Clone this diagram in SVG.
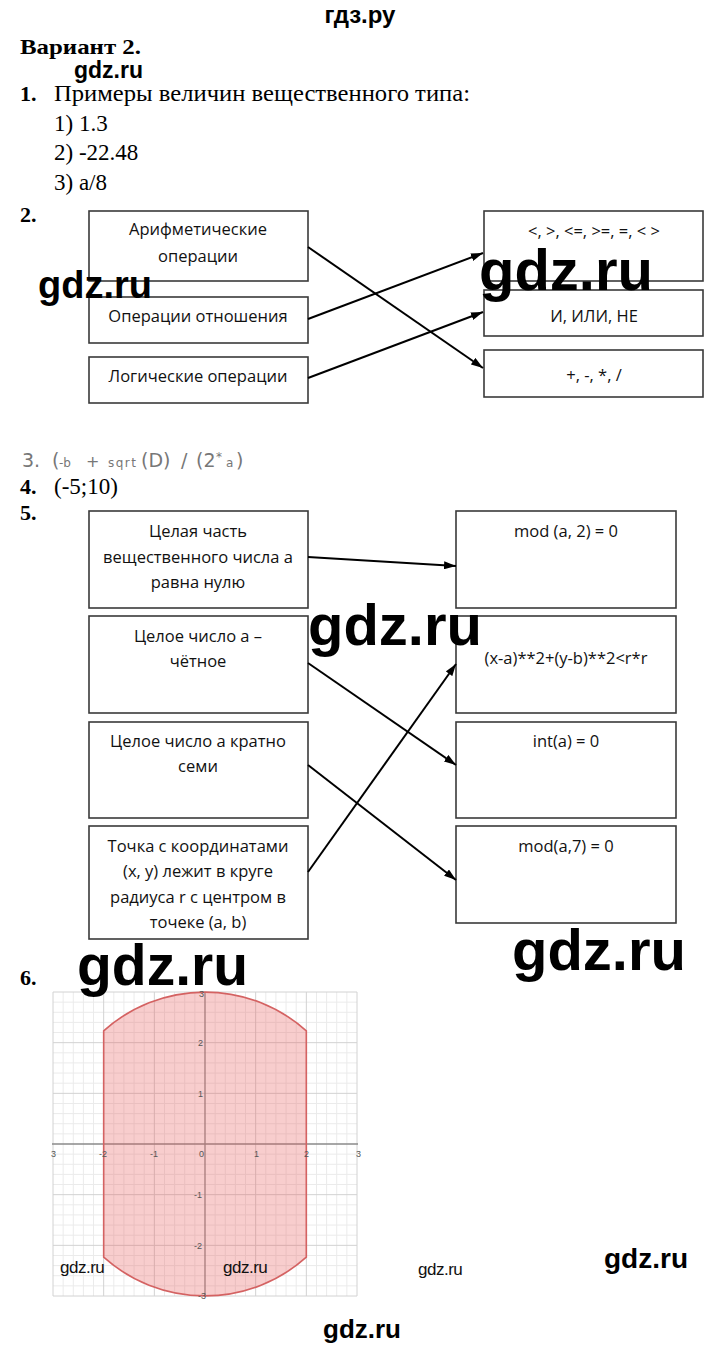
<svg xmlns="http://www.w3.org/2000/svg" width="720" height="1350" viewBox="0 0 720 1350">
<defs>
<style>
.box{fill:#fff;stroke:#3a3a3a;stroke-width:1.6}
.bt{font-family:"Open Sans","Noto Sans",sans-serif;font-size:16.5px;fill:#111;text-anchor:middle}
.ser{font-family:"Liberation Serif","Times New Roman",serif;font-size:23px;fill:#000}
.serb{font-family:"Liberation Serif","Times New Roman",serif;font-size:22px;font-weight:bold;fill:#000}
.wm{font-family:"Liberation Sans",Arial,sans-serif;font-weight:bold;fill:#000}
.wms{font-family:"Liberation Sans",Arial,sans-serif;fill:#111;font-size:17px;letter-spacing:-0.5px}
.conn{stroke:#000;stroke-width:2;fill:none;marker-end:url(#ah)}
.q3{font-family:"DejaVu Sans",sans-serif;fill:#777}
.minor{stroke:#ebebeb;stroke-width:1;fill:none}
.major{stroke:#d2d2d2;stroke-width:1;fill:none}
.axis{stroke:#8a8a8a;stroke-width:1.3;fill:none}
.tick{font-family:"Liberation Sans",Arial,sans-serif;font-size:9px;fill:#555}
</style>
<marker id="ah" viewBox="0 0 12 8" refX="12" refY="4" markerWidth="12" markerHeight="8" markerUnits="userSpaceOnUse" orient="auto">
<path d="M0,0 L12,4 L0,8 Z" fill="#000"/>
</marker>
</defs>
<rect width="720" height="1350" fill="#fff"/>

<!-- header texts -->
<text class="wm" x="360" y="23" font-size="24" text-anchor="middle">гдз.ру</text>
<text class="serb" x="20" y="54" textLength="121" lengthAdjust="spacingAndGlyphs">Вариант 2.</text>
<text class="serb" x="20" y="101">1.</text>
<text class="ser" x="54" y="101" textLength="416" lengthAdjust="spacingAndGlyphs">Примеры величин вещественного типа:</text>
<text class="ser" x="54" y="131">1) 1.3</text>
<text class="ser" x="54" y="160">2) -22.48</text>
<text class="ser" x="54" y="190">3) a/8</text>
<text class="serb" x="20" y="222">2.</text>

<!-- Q2 nodes -->
<g id="q2-left-1"><rect class="box" x="89" y="211" width="219" height="70"/><text class="bt" x="198" y="235">Арифметические</text><text class="bt" x="198" y="262">операции</text></g>
<g id="q2-left-2"><rect class="box" x="89" y="297" width="219" height="46"/><text class="bt" x="198" y="322">Операции отношения</text></g>
<g id="q2-left-3"><rect class="box" x="89" y="357" width="219" height="46"/><text class="bt" x="198" y="382">Логические операции</text></g>
<g id="q2-right-1"><rect class="box" x="484" y="211" width="219" height="70"/><text class="bt" x="594" y="237">&lt;, &gt;, &lt;=, &gt;=, =, &lt; &gt;</text></g>
<g id="q2-right-2"><rect class="box" x="484" y="290" width="219" height="46"/><text class="bt" x="594" y="322">И, ИЛИ, НЕ</text></g>
<g id="q2-right-3"><rect class="box" x="484" y="350" width="219" height="47"/><text class="bt" x="594" y="381">+, -, *, /</text></g>

<!-- Q3/Q4 -->
<text class="q3" y="467"><tspan x="22" font-size="19">3.</tspan><tspan x="52" font-size="19">(</tspan><tspan x="59" font-size="12">-b</tspan><tspan x="86" font-size="16">+</tspan><tspan x="108" font-size="12" letter-spacing="1.5">sqrt</tspan><tspan x="141" font-size="19">(D)</tspan><tspan x="181" font-size="19">/</tspan><tspan x="196" font-size="19">(2</tspan><tspan x="216" font-size="12" dy="-6">*</tspan><tspan x="226" font-size="12" dy="6">a</tspan><tspan x="236" font-size="19">)</tspan></text>
<text class="serb" x="20" y="494">4.</text>
<text class="ser" x="54" y="494">(-5;10)</text>
<text class="serb" x="20" y="520">5.</text>

<!-- Q5 nodes -->
<g id="q5-left-1"><rect class="box" x="89" y="511" width="219" height="97"/><text class="bt" x="198" y="537">Целая часть</text><text class="bt" x="198" y="563">вещественного числа а</text><text class="bt" x="198" y="588">равна нулю</text></g>
<g id="q5-left-2"><rect class="box" x="89" y="616" width="219" height="97"/><text class="bt" x="198" y="642">Целое число а –</text><text class="bt" x="198" y="667">чётное</text></g>
<g id="q5-left-3"><rect class="box" x="89" y="722" width="219" height="96"/><text class="bt" x="198" y="747">Целое число а кратно</text><text class="bt" x="198" y="772">семи</text></g>
<g id="q5-left-4"><rect class="box" x="89" y="826" width="219" height="113"/><text class="bt" x="198" y="852">Точка с координатами</text><text class="bt" x="198" y="877">(x, y) лежит в круге</text><text class="bt" x="198" y="903">радиуса r с центром в</text><text class="bt" x="198" y="928">точеке (a, b)</text></g>
<g id="q5-right-1"><rect class="box" x="456" y="511" width="220" height="97"/><text class="bt" x="566" y="537">mod (a, 2) = 0</text></g>
<g id="q5-right-2"><rect class="box" x="456" y="616" width="220" height="97"/><text class="bt" x="566" y="664">(x-a)**2+(y-b)**2&lt;r*r</text></g>
<g id="q5-right-3"><rect class="box" x="456" y="722" width="220" height="96"/><text class="bt" x="566" y="747">int(a) = 0</text></g>
<g id="q5-right-4"><rect class="box" x="456" y="826" width="220" height="97"/><text class="bt" x="566" y="852">mod(a,7) = 0</text></g>

<!-- connectors -->
<g id="connectors">
<line class="conn" x1="308" y1="247" x2="483" y2="368"/>
<line class="conn" x1="308" y1="319" x2="483" y2="253"/>
<line class="conn" x1="308" y1="378" x2="483" y2="312"/>
<line class="conn" x1="308" y1="557" x2="456" y2="566"/>
<line class="conn" x1="308" y1="663" x2="456" y2="765"/>
<line class="conn" x1="308" y1="765" x2="456" y2="880"/>
<line class="conn" x1="308" y1="872" x2="456" y2="664"/>
</g>

<text class="serb" x="20" y="985">6.</text>

<!-- graph -->
<g id="graph">
<path class="minor" d="M63.13 992V1296M73.27 992V1296M83.4 992V1296M93.53 992V1296M113.8 992V1296M123.93 992V1296M134.07 992V1296M144.2 992V1296M164.47 992V1296M174.6 992V1296M184.73 992V1296M194.87 992V1296M215.13 992V1296M225.27 992V1296M235.4 992V1296M245.53 992V1296M265.8 992V1296M275.93 992V1296M286.07 992V1296M296.2 992V1296M316.47 992V1296M326.6 992V1296M336.73 992V1296M346.87 992V1296M53 1002.13H357M53 1012.27H357M53 1022.4H357M53 1032.53H357M53 1052.8H357M53 1062.93H357M53 1073.07H357M53 1083.2H357M53 1103.47H357M53 1113.6H357M53 1123.73H357M53 1133.87H357M53 1154.13H357M53 1164.27H357M53 1174.4H357M53 1184.53H357M53 1204.8H357M53 1214.93H357M53 1225.07H357M53 1235.2H357M53 1255.47H357M53 1265.6H357M53 1275.73H357M53 1285.87H357"/>
<path class="major" d="M53 992V1296M103.67 992V1296M154.33 992V1296M255.67 992V1296M306.33 992V1296M357 992V1296M53 992H357M53 1042.67H357M53 1093.33H357M53 1194.67H357M53 1245.33H357M53 1296H357"/>
<path class="axis" d="M205 992V1296M52 1144H358"/>
<path d="M103.67 1030.8 A152 152 0 0 1 306.33 1030.8 L306.33 1257.2 A152 152 0 0 1 103.67 1257.2 Z" fill="#e85a5a" fill-opacity="0.3" stroke="#d46262" stroke-width="1.6"/>
<text class="tick" x="51" y="1157">3</text>
<text class="tick" x="99" y="1157">-2</text>
<text class="tick" x="150" y="1157">-1</text>
<text class="tick" x="199" y="1157">0</text>
<text class="tick" x="254" y="1157">1</text>
<text class="tick" x="304" y="1157">2</text>
<text class="tick" x="356" y="1157">3</text>
<text class="tick" x="198" y="1046">2</text>
<text class="tick" x="198" y="1097">1</text>
<text class="tick" x="194" y="1198">-1</text>
<text class="tick" x="194" y="1249">-2</text>
<text class="tick" x="199" y="997">3</text>
<text class="tick" x="198" y="1299">-3</text>
</g>

<!-- watermarks -->
<text class="wm" x="74" y="78" font-size="23">gdz.ru</text>
<text class="wm" x="38" y="298" font-size="38">gdz.ru</text>
<text class="wm" x="479" y="290" font-size="58">gdz.ru</text>
<text class="wm" x="308" y="645" font-size="58">gdz.ru</text>
<text class="wm" x="512" y="970" font-size="58">gdz.ru</text>
<text class="wm" x="77" y="985" font-size="57">gdz.ru</text>
<text class="wms" x="60" y="1273">gdz.ru</text>
<text class="wms" x="223" y="1273">gdz.ru</text>
<text class="wms" x="418" y="1275">gdz.ru</text>
<text class="wm" x="604" y="1268" font-size="28">gdz.ru</text>
<text class="wm" x="362" y="1338" font-size="26" text-anchor="middle">gdz.ru</text>
</svg>
